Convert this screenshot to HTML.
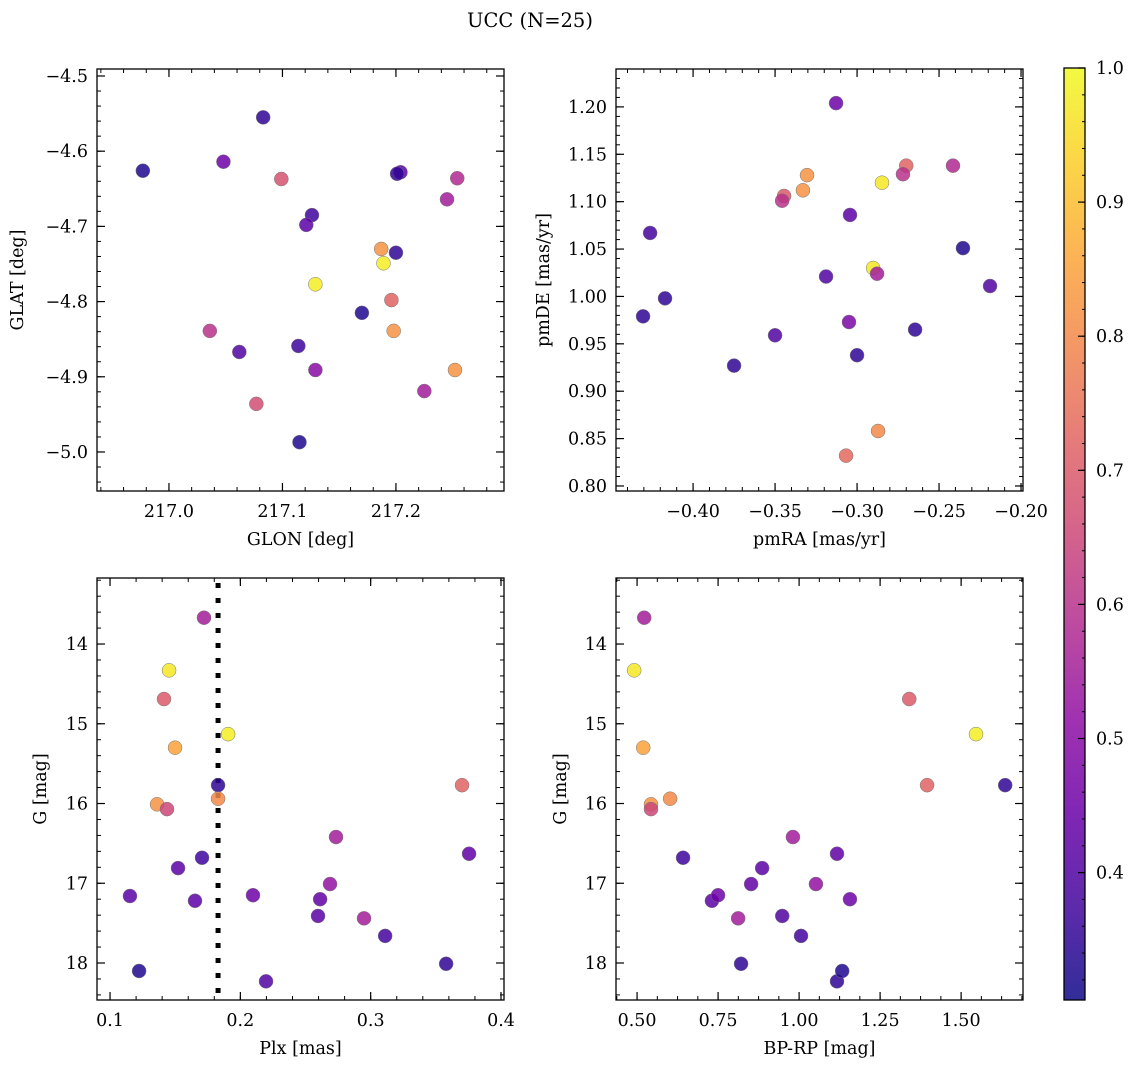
<!DOCTYPE html>
<html><head><meta charset="utf-8"><style>
body{margin:0;background:#fff;}
svg{display:block;font-family:"DejaVu Serif","Liberation Serif",serif;}
</style></head><body>
<svg id="fig" width="1136" height="1068" viewBox="0 0 1136 1068">
<text x="530" y="27" font-size="19.5" text-anchor="middle">UCC (N=25)</text>
</svg>
<script>
// Panel 1: GLON / GLAT
const glon=[216.977,217.083,217.048,217.099,217.204,217.201,217.254,217.245,217.126,217.121,217.187,217.200,217.189,217.129,217.170,217.196,217.198,217.036,217.062,217.114,217.129,217.252,217.077,217.225,217.115];
const glat=[-4.626,-4.555,-4.614,-4.637,-4.628,-4.630,-4.636,-4.664,-4.685,-4.698,-4.730,-4.735,-4.749,-4.777,-4.815,-4.798,-4.839,-4.839,-4.867,-4.859,-4.891,-4.891,-4.936,-4.919,-4.987];
const prob1=[0.33,0.35,0.45,0.68,0.42,0.35,0.58,0.55,0.37,0.42,0.82,0.35,0.98,0.98,0.33,0.72,0.82,0.6,0.4,0.37,0.5,0.82,0.67,0.55,0.33];
// Panel 2: pmRA / pmDE
const pmra=[-0.4262,-0.4305,-0.4171,-0.375,-0.3128,-0.3305,-0.333,-0.3445,-0.3457,-0.3043,-0.2848,-0.270,-0.272,-0.2415,-0.2354,-0.2189,-0.2902,-0.2878,-0.3189,-0.35,-0.3049,-0.300,-0.2646,-0.2872,-0.3067];
const pmde=[1.067,0.979,0.998,0.927,1.204,1.128,1.112,1.106,1.101,1.086,1.120,1.138,1.129,1.138,1.051,1.011,1.030,1.024,1.021,0.959,0.973,0.938,0.965,0.858,0.832];
const prob2=[0.38,0.35,0.35,0.35,0.45,0.82,0.82,0.7,0.6,0.42,0.97,0.72,0.6,0.58,0.33,0.4,0.97,0.55,0.4,0.4,0.48,0.35,0.35,0.8,0.73];
// Panel 3: Plx / G
const plx=[0.1153,0.1223,0.1721,0.1453,0.1414,0.1499,0.1906,0.1829,0.1829,0.1361,0.1437,0.1706,0.1522,0.1652,0.2097,0.2197,0.2734,0.2688,0.2612,0.2596,0.2949,0.3111,0.3579,0.3701,0.3755];
const gmag3=[17.16,18.10,13.67,14.33,14.69,15.30,15.13,15.77,15.94,16.01,16.07,16.68,16.81,17.22,17.15,18.23,16.42,17.01,17.20,17.41,17.44,17.66,18.01,15.77,16.63];
const prob3=[0.42,0.33,0.55,0.97,0.7,0.85,0.98,0.35,0.8,0.82,0.65,0.37,0.42,0.42,0.45,0.4,0.55,0.52,0.43,0.42,0.55,0.38,0.35,0.72,0.43];
const plxLine=0.1829;
// Panel 4: BP-RP / G
const bprp=[0.491,0.522,0.519,0.543,0.602,0.642,0.731,0.75,0.812,0.821,0.852,0.886,0.948,0.981,1.006,1.052,1.117,1.157,1.117,1.133,1.34,1.395,1.546,1.636,0.543];
const gmag4=[14.33,13.67,15.30,16.01,15.94,16.68,17.22,17.15,17.44,18.01,17.01,16.81,17.41,16.42,17.66,17.01,16.63,17.20,18.23,18.10,14.69,15.77,15.13,15.77,16.07];
const prob4=[0.97,0.55,0.85,0.82,0.8,0.37,0.42,0.45,0.55,0.35,0.43,0.42,0.4,0.55,0.38,0.52,0.43,0.45,0.35,0.33,0.7,0.72,0.98,0.35,0.65];
// Tick labels
const xt1=[217.0,217.1,217.2], yt1=[-4.5,-4.6,-4.7,-4.8,-4.9,-5.0];
const xt2=[-0.40,-0.35,-0.30,-0.25,-0.20], yt2=[0.80,0.85,0.90,0.95,1.00,1.05,1.10,1.15,1.20];
const xt3=[0.1,0.2,0.3,0.4], yt34=[14,15,16,17,18];
const xt4=[0.50,0.75,1.00,1.25,1.50];
const cbt=[0.4,0.5,0.6,0.7,0.8,0.9,1.0];
const vmin=0.305, vmax=1.0;

const FS=17.5;
const NS='http://www.w3.org/2000/svg';
const svg=document.getElementById('fig');
function mk(tag,attrs,parent){const e=document.createElementNS(NS,tag);for(const k in attrs)e.setAttribute(k,attrs[k]);(parent||svg).appendChild(e);return e;}
const plasma=['#0d0887','#41049d','#6a00a8','#8f0da4','#b12a90','#cc4778','#e16462','#f2844b','#fca636','#fcce25','#f0f921'];
function hx(c){return [1,3,5].map(i=>parseInt(c.substr(i,2),16));}
function cmap(v){let t=Math.max(0,Math.min(1,(v-vmin)/(vmax-vmin)))*10;let i=Math.min(9,Math.floor(t));let f=t-i;const a=hx(plasma[i]),b=hx(plasma[i+1]);return 'rgb('+a.map((x,k)=>Math.round(x+(b[k]-x)*f)).join(',')+')';}
function fmt(v,d){const s=Math.abs(v).toFixed(d);return (v<0?'\u2212':'')+s;}

function panel(o){
  const g=mk('g',{});
  
  
  const X=v=>o.x0+(v-o.xmin)/(o.xmax-o.xmin)*(o.x1-o.x0);
  const Y=o.yinv?(v=>o.y0+(v-o.ymin)/(o.ymax-o.ymin)*(o.y1-o.y0)):(v=>o.y1-(v-o.ymin)/(o.ymax-o.ymin)*(o.y1-o.y0));
  const xs=o.xt[1]-o.xt[0], ys=Math.abs(o.yt[1]-o.yt[0]);
  const xm=xs/o.xdiv, ym=ys/o.ydiv;
  for(let v=Math.ceil(o.xmin/xm)*xm; v<=o.xmax+1e-9; v+=xm){const px=X(v);
    mk('line',{x1:px,x2:px,y1:o.y1,y2:o.y1-4,stroke:'#000','stroke-width':1},g);
    mk('line',{x1:px,x2:px,y1:o.y0,y2:o.y0+4,stroke:'#000','stroke-width':1},g);}
  const ylo=Math.min(o.ymin,o.ymax), yhi=Math.max(o.ymin,o.ymax);
  for(let v=Math.ceil(ylo/ym)*ym; v<=yhi+1e-9; v+=ym){const py=Y(v);
    mk('line',{x1:o.x0,x2:o.x0+4,y1:py,y2:py,stroke:'#000','stroke-width':1},g);
    mk('line',{x1:o.x1,x2:o.x1-4,y1:py,y2:py,stroke:'#000','stroke-width':1},g);}
  o.xt.forEach(v=>{const px=X(v);
    mk('line',{x1:px,x2:px,y1:o.y1,y2:o.y1-8,stroke:'#000','stroke-width':1.2},g);
    mk('line',{x1:px,x2:px,y1:o.y0,y2:o.y0+8,stroke:'#000','stroke-width':1.2},g);
    const t=mk('text',{x:px,y:o.y1+26,'font-size':FS,'text-anchor':'middle'},g);t.textContent=fmt(v,o.xd);
    
    });
  o.yt.forEach(v=>{const py=Y(v);
    mk('line',{x1:o.x0,x2:o.x0+8,y1:py,y2:py,stroke:'#000','stroke-width':1.2},g);
    mk('line',{x1:o.x1,x2:o.x1-8,y1:py,y2:py,stroke:'#000','stroke-width':1.2},g);
    const t=mk('text',{x:o.x0-9,y:py+6,'font-size':FS,'text-anchor':'end'},g);t.textContent=fmt(v,o.yd);
    
    });
  if(o.vline!==undefined){const l=mk('line',{x1:X(o.vline),x2:X(o.vline),y1:o.y0+5,y2:o.y1,stroke:'#000','stroke-width':5,'stroke-dasharray':'5 10'},g);
    
    }
  o.xs.forEach((v,i)=>{const c=mk('circle',{cx:X(v),cy:Y(o.ys[i]),r:7,fill:cmap(o.cs[i]),'fill-opacity':0.85,stroke:'#777','stroke-width':0.5},g);
    
    });
  mk('rect',{x:o.x0,y:o.y0,width:o.x1-o.x0,height:o.y1-o.y0,fill:'none',stroke:'#000','stroke-width':1.3},g);
  const xl=mk('text',{x:(o.x0+o.x1)/2,y:o.y1+54,'font-size':FS,'text-anchor':'middle'},g);xl.textContent=o.xlab;
  
  
  const yl=mk('text',{x:0,y:0,'font-size':FS,'text-anchor':'middle',transform:'translate('+(o.ylx)+','+((o.y0+o.y1)/2)+') rotate(-90)'},g);yl.textContent=o.ylab;
  
  
}
panel({name:'panel-glon-glat',x0:97,x1:504,y0:69,y1:491,xmin:216.9366,xmax:217.2952,ymin:-5.0519,ymax:-4.4907,xt:xt1,yt:yt1,xd:1,yd:1,xdiv:5,ydiv:5,xs:glon,ys:glat,cs:prob1,xlab:'GLON [deg]',ylab:'GLAT [deg]',ylx:23});
panel({name:'panel-pm',x0:616,x1:1023,y0:69,y1:491,xmin:-0.447,xmax:-0.1988,ymin:0.7947,ymax:1.240,xt:xt2,yt:yt2,xd:2,yd:2,xdiv:5,ydiv:5,xs:pmra,ys:pmde,cs:prob2,xlab:'pmRA [mas/yr]',ylab:'pmDE [mas/yr]',ylx:549});
panel({name:'panel-plx-g',x0:97,x1:504,y0:578,y1:1000,xmin:0.090,xmax:0.4023,ymin:13.172,ymax:18.464,yinv:true,xt:xt3,yt:yt34,xd:1,yd:0,xdiv:5,ydiv:5,xs:plx,ys:gmag3,cs:prob3,vline:plxLine,xlab:'Plx [mas]',ylab:'G [mag]',ylx:46});
panel({name:'panel-cmd',x0:616,x1:1023,y0:578,y1:1000,xmin:0.435,xmax:1.691,ymin:13.172,ymax:18.464,yinv:true,xt:xt4,yt:yt34,xd:2,yd:0,xdiv:4,ydiv:5,xs:bprp,ys:gmag4,cs:prob4,xlab:'BP-RP [mag]',ylab:'G [mag]',ylx:566});

// colorbar
const defs=mk('defs',{});
const lg=mk('linearGradient',{id:'cbg',x1:0,y1:1,x2:0,y2:0},defs);
plasma.forEach((c,i)=>mk('stop',{offset:(i/10),'stop-color':c,'stop-opacity':0.85},lg));
const cb=mk('g',{});


const cx0=1064,cx1=1085,cy0=68,cy1=1000;
mk('rect',{x:cx0,y:cy0,width:cx1-cx0,height:cy1-cy0,fill:'url(#cbg)'},cb);
const CY=v=>cy1-(v-vmin)/(vmax-vmin)*(cy1-cy0);
for(let v=0.32;v<=1.0001;v+=0.02){const py=CY(v);mk('line',{x1:cx1,x2:cx1-3,y1:py,y2:py,stroke:'#000','stroke-width':1},cb);}
cbt.forEach(v=>{const py=CY(v);mk('line',{x1:cx1,x2:cx1-7,y1:py,y2:py,stroke:'#000','stroke-width':1.2},cb);
  const t=mk('text',{x:cx1+11,y:py+6,'font-size':FS},cb);t.textContent=v.toFixed(1);
  
  });
mk('rect',{x:cx0,y:cy0,width:cx1-cx0,height:cy1-cy0,fill:'none',stroke:'#000','stroke-width':1.3},cb);
</script>
</body></html>
